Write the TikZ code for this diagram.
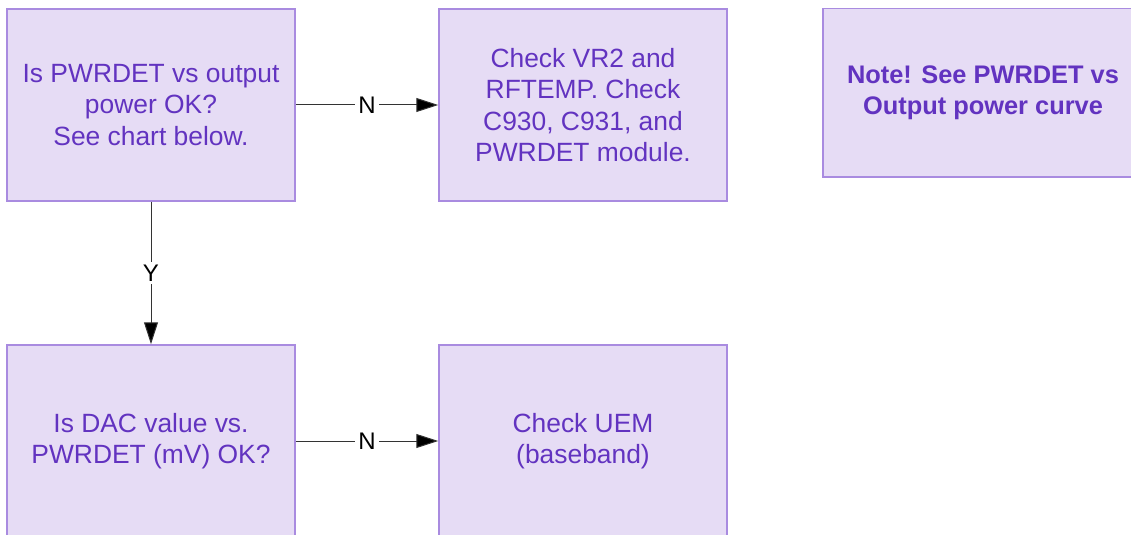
\documentclass[tikz,border=0pt]{standalone}
\usepackage{fontspec}
\setmainfont{Liberation Sans}
\usetikzlibrary{arrows.meta}
\definecolor{boxfill}{HTML}{E6DCF5}
\definecolor{boxline}{HTML}{A98BE0}
\definecolor{boxtext}{HTML}{6233C0}
\begin{document}
\begin{tikzpicture}[x=0.5pt,y=-0.5pt,
  flowbox/.style={draw=boxline, fill=boxfill, line width=0.75pt, minimum width=144pt, minimum height=96pt, inner sep=0pt, text=boxtext, align=center, font=\fontsize{13.2}{15.75}\selectfont},
  conn/.style={draw=black!80, line width=0.5pt, -{Triangle[length=11pt,width=7pt,fill=black]}},
  lbl/.style={fill=white, inner sep=1.5pt, text=black, font=\fontsize{12}{14}\selectfont}]
\useasboundingbox (0,0) rectangle (1131,535);
\node[flowbox] (b1) at (151,105) {Is PWRDET vs output\\power OK?\\See chart below.};
\node[flowbox] (b2) at (583,105) {Check VR2 and\\RFTEMP. Check\\C930, C931, and\\PWRDET module.};
\node[flowbox, minimum width=160pt, minimum height=84.25pt, font=\bfseries\fontsize{12.7}{15.75}\selectfont] (note) at (983,93) {Note! See PWRDET vs\\Output power curve};
\node[flowbox] (b3) at (151,441) {Is DAC value vs.\\PWRDET (mV) OK?};
\node[flowbox] (b4) at (583,441) {Check UEM\\(baseband)};
\draw[conn] (b1) -- node[lbl]{N} (b2);
\draw[conn] (b1) -- node[lbl]{Y} (b3);
\draw[conn] (b3) -- node[lbl]{N} (b4);
\end{tikzpicture}
\end{document}
